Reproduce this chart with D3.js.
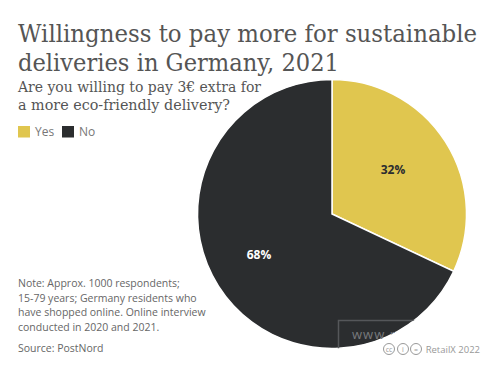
<!DOCTYPE html>
<html>
<head>
<meta charset="utf-8">
<script src="https://cdn.jsdelivr.net/npm/d3@7"></script>
<style>
    html, body { margin: 0; padding: 0; background: #fff; }
    text { font-family: "Open Sans", sans-serif; }
    .serif { font-family: "DejaVu Serif", serif; fill: #555; }
</style>
</head>
<body>
<div id="canvas"></div>
<script>
const categories = ['Yes', 'No'];
const values = [32, 68];
const colors = ['#e0c64f', '#2b2d2f'];
const titleLines = ['Willingness to pay more for sustainable', 'deliveries in Germany, 2021'];
const subtitleLines = ['Are you willing to pay 3€ extra for', 'a more eco-friendly delivery?'];
const noteLines = ['Note: Approx. 1000 respondents;', '15-79 years; Germany residents who', 'have shopped online. Online interview', 'conducted in 2020 and 2021.'];
const sourceLine = 'Source: PostNord';
const creditLine = 'RetailX 2022';

const width = 498, height = 367;
const svg = d3.select('#canvas').append('svg')
    .attr('width', width)
    .attr('height', height)
    .style('display', 'block');

/* Pie */
const cx = 332, cy = 214, radius = 134.5;
const pie = d3.pie().sort(null)(values);
const arc = d3.arc().innerRadius(0).outerRadius(radius);
const color = d3.scaleOrdinal().domain(categories).range(colors);

const pieGroup = svg.append('g').attr('transform', `translate(${cx},${cy})`);
pieGroup.selectAll('path')
    .data(pie)
    .join('path')
    .attr('d', arc)
    .attr('fill', (d, i) => color(categories[i]))
    .attr('stroke', '#fff')
    .attr('stroke-width', 1.5);

const labelArc = d3.arc().innerRadius(radius * 0.59).outerRadius(radius * 0.59);
pieGroup.selectAll('text')
    .data(pie)
    .join('text')
    .attr('transform', d => {
        const [x, y] = labelArc.centroid(d);
        return `translate(${x - 6},${y - 2})`;
    })
    .attr('text-anchor', 'middle')
    .attr('dy', '0.35em')
    .attr('font-size', 12)
    .attr('font-weight', 700)
    .attr('fill', (d, i) => i === 0 ? '#2b2d2f' : '#fff')
    .text(d => d.data + '%');

/* Watermark, only visible over the dark slice */
const clip = svg.append('clipPath').attr('id', 'pie-clip');
clip.append('circle').attr('cx', cx).attr('cy', cy).attr('r', radius);
const mark = svg.append('g').attr('clip-path', 'url(#pie-clip)');
mark.append('rect')
    .attr('x', 338.5).attr('y', 320.5).attr('width', 120).attr('height', 40)
    .attr('fill', 'none').attr('stroke', '#55575a').attr('stroke-width', 1.5);
mark.append('text')
    .attr('x', 352).attr('y', 339)
    .attr('font-size', 13).attr('letter-spacing', 1).attr('fill', '#77797c')
    .text('www.retailx.net');

/* Titles */
svg.append('g').selectAll('text')
    .data(titleLines)
    .join('text')
    .attr('class', 'serif')
    .attr('x', 18)
    .attr('y', (d, i) => 42 + i * 29)
    .attr('font-size', 23.5)
    .attr('textLength', (d, i) => i === 0 ? 459 : 321)
    .attr('lengthAdjust', 'spacingAndGlyphs')
    .text(d => d);

svg.append('g').selectAll('text')
    .data(subtitleLines)
    .join('text')
    .attr('class', 'serif')
    .attr('x', 18)
    .attr('y', (d, i) => 92 + i * 18)
    .attr('font-size', 15)
    .attr('textLength', (d, i) => i === 0 ? 243 : 212)
    .attr('lengthAdjust', 'spacingAndGlyphs')
    .text(d => d);

/* Legend */
const legendX = [18, 62];
const legend = svg.append('g').selectAll('g')
    .data(categories)
    .join('g')
    .attr('transform', (d, i) => `translate(${legendX[i]},126)`);
legend.append('rect')
    .attr('width', 12).attr('height', 11.5)
    .attr('fill', d => color(d));
legend.append('text')
    .attr('x', 17).attr('y', 10)
    .attr('font-size', 12)
    .attr('fill', '#777')
    .text(d => d);

/* Notes */
svg.append('g').selectAll('text')
    .data(noteLines)
    .join('text')
    .attr('x', 18)
    .attr('y', (d, i) => 287 + i * 14.5)
    .attr('font-size', 10.5)
    .attr('fill', '#666')
    .text(d => d);

svg.append('text')
    .attr('x', 18).attr('y', 352)
    .attr('font-size', 10.5)
    .attr('fill', '#666')
    .text(sourceLine);

/* Credit icons */
const iconX = [389, 403, 416];
const iconText = ['cc', 'i', '='];
const icons = svg.append('g').selectAll('g')
    .data(iconText)
    .join('g')
    .attr('transform', (d, i) => `translate(${iconX[i]},349)`);
icons.append('circle')
    .attr('r', 5.5).attr('fill', 'none').attr('stroke', '#999').attr('stroke-width', 1);
icons.append('text')
    .attr('text-anchor', 'middle').attr('y', 2.5)
    .attr('font-size', 7).attr('fill', '#999')
    .text(d => d);

svg.append('text')
    .attr('x', 480).attr('y', 353)
    .attr('text-anchor', 'end')
    .attr('font-size', 9.5)
    .attr('fill', '#999')
    .text(creditLine);
</script>
</body>
</html>
